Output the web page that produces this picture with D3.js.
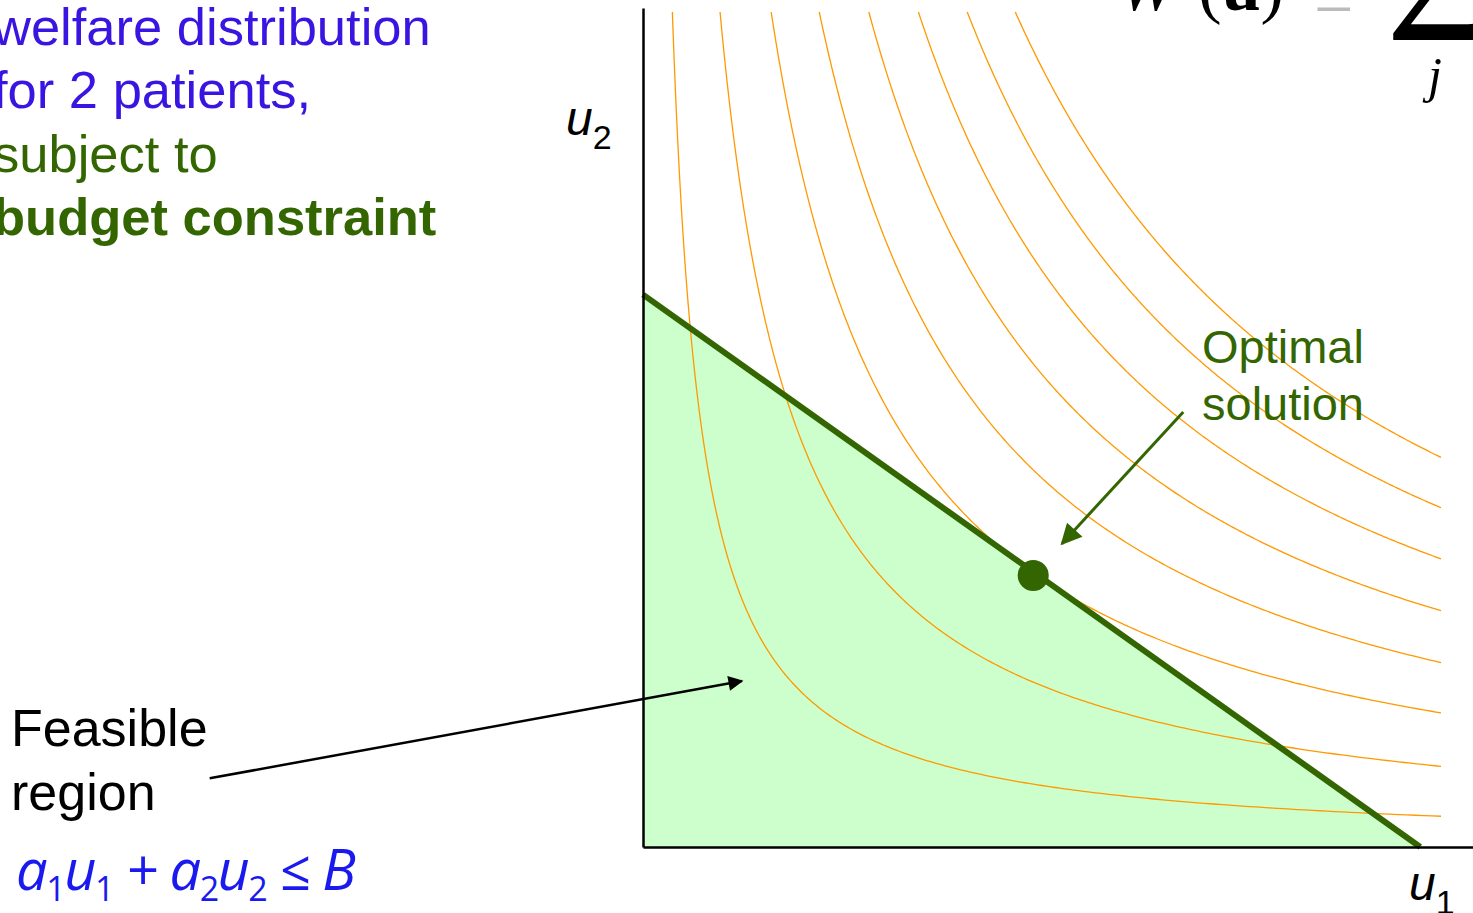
<!DOCTYPE html>
<html>
<head>
<meta charset="utf-8">
<script src="https://cdn.jsdelivr.net/npm/d3@7"></script>
<style>
body { margin: 0; background: #fff; overflow: hidden; }
svg { display: block; }
</style>
</head>
<body>
<div class="graph"></div>
<script>
// welfare levels: curves u1 * u2 = level
const welfareLevels = [3.85, 10.1, 16.8, 23.1, 29.6, 36.1, 42.5, 48.8]
// budget line intercepts [u1, u2]
const budget = [9.74, 6.92]
const optimum = [4.89, 3.40]
// annotation arrows [from, to] in axis units
const optimalArrow = [[6.77, 5.45], [5.25, 3.80]]
const feasibleArrow = [[-5.43, 0.86], [1.24, 2.08]]
const titleLines = [
    { text: 'welfare distribution', colour: '#3a14e0', bold: false },
    { text: 'for 2 patients,', colour: '#3a14e0', bold: false },
    { text: 'subject to', colour: '#336600', bold: false },
    { text: 'budget constraint', colour: '#336600', bold: true }
]
// budget formula pieces [text, subscript]
const formulaParts = [['a', '1'], ['u', '1'], [' + ', ''], ['a', '2'], ['u', '2'], [' \u2264 B', '']]

const w = 1473
const h = 913
const colours = {
    curve: '#ff9900',
    budget: '#336600',
    fill: '#ccffcc',
    blue: '#1a1aee'
}

const x = d3.scaleLinear().domain([0, 10]).range([643, 1441])
const y = d3.scaleLinear().domain([0, 10.46]).range([847, 12])

const svg = d3.select('.graph')
    .append('svg')
    .attr('width', w)
    .attr('height', h)
    .attr('viewBox', '0 0 ' + w + ' ' + h)

const defs = svg.append('defs')
defs.append('marker')
    .attr('id', 'head-green')
    .attr('viewBox', '0 0 10 10')
    .attr('refX', 9).attr('refY', 5)
    .attr('markerWidth', 8).attr('markerHeight', 7)
    .attr('markerUnits', 'strokeWidth')
    .attr('orient', 'auto')
    .append('path').attr('d', 'M0,0 L10,5 L0,10 z').attr('fill', colours.budget)
defs.append('marker')
    .attr('id', 'head-black')
    .attr('viewBox', '0 0 10 10')
    .attr('refX', 9).attr('refY', 5)
    .attr('markerWidth', 8).attr('markerHeight', 6)
    .attr('markerUnits', 'strokeWidth')
    .attr('orient', 'auto')
    .append('path').attr('d', 'M0,0 L10,5 L0,10 z').attr('fill', '#000')

// feasible region
const region = [[0, 0], [0, budget[1]], [budget[0], 0]]
svg.append('path')
    .attr('d', d3.line().x(d => x(d[0])).y(d => y(d[1]))(region) + 'Z')
    .attr('fill', colours.fill)

// indifference curves
const yMax = y.domain()[1]
const xMax = x.domain()[1]
const curvePoints = k => {
    const lo = Math.log(k / yMax), hi = Math.log(xMax)
    return d3.range(0, 301).map(i => {
        const u1 = Math.exp(lo + (hi - lo) * i / 300)
        return [u1, k / u1]
    })
}
svg.append('g')
    .selectAll('path.curve')
    .data(welfareLevels)
    .join('path')
    .attr('class', 'curve')
    .attr('d', k => d3.line().x(d => x(d[0])).y(d => y(d[1]))(curvePoints(k)))
    .attr('fill', 'none')
    .attr('stroke', colours.curve)
    .attr('stroke-width', 1.3)

// budget line
svg.append('line')
    .attr('x1', x(0)).attr('y1', y(budget[1]))
    .attr('x2', x(budget[0])).attr('y2', y(0))
    .attr('stroke', colours.budget)
    .attr('stroke-width', 6)

// axes
const xAxisScale = x.copy().domain([0, 10.4]).range([x(0), x(10.4)])
const yAxisScale = y.copy().domain([0, 10.51]).range([y(0), y(10.51)])
svg.append('g')
    .attr('class', 'axis')
    .attr('transform', 'translate(0,' + y(0) + ')')
    .call(d3.axisBottom(xAxisScale).tickValues([]).tickSizeOuter(0))
svg.append('g')
    .attr('class', 'axis')
    .attr('transform', 'translate(' + x(0) + ',0)')
    .call(d3.axisLeft(yAxisScale).tickValues([]).tickSizeOuter(0))
svg.selectAll('.axis path')
    .attr('stroke', '#000')
    .attr('stroke-width', 2.5)

// optimum
svg.append('circle')
    .attr('cx', x(optimum[0]))
    .attr('cy', y(optimum[1]))
    .attr('r', 15.5)
    .attr('fill', colours.budget)

// arrows
svg.append('line')
    .attr('x1', x(optimalArrow[0][0])).attr('y1', y(optimalArrow[0][1]))
    .attr('x2', x(optimalArrow[1][0])).attr('y2', y(optimalArrow[1][1]))
    .attr('stroke', colours.budget)
    .attr('stroke-width', 3)
    .attr('marker-end', 'url(#head-green)')
svg.append('line')
    .attr('x1', x(feasibleArrow[0][0])).attr('y1', y(feasibleArrow[0][1]))
    .attr('x2', x(feasibleArrow[1][0])).attr('y2', y(feasibleArrow[1][1]))
    .attr('stroke', '#000')
    .attr('stroke-width', 2.5)
    .attr('marker-end', 'url(#head-black)')

// texts
const sans = 'Liberation Sans, Arial, sans-serif'
svg.append('g')
    .selectAll('text.title')
    .data(titleLines)
    .join('text')
    .attr('class', 'title')
    .attr('x', -7)
    .attr('y', (d, i) => 45 + i * 63.3)
    .attr('font-family', sans)
    .attr('font-size', 52.5)
    .attr('font-weight', d => d.bold ? 'bold' : 'normal')
    .attr('fill', d => d.colour)
    .text(d => d.text)

const optText = svg.append('text')
    .attr('font-family', sans)
    .attr('font-size', 47)
    .attr('fill', colours.budget)
optText.append('tspan').attr('x', 1202).attr('y', 363).text('Optimal')
optText.append('tspan').attr('x', 1202).attr('y', 420).text('solution')

const feasText = svg.append('text')
    .attr('font-family', sans)
    .attr('font-size', 52)
    .attr('fill', '#000')
feasText.append('tspan').attr('x', 11).attr('y', 746).text('Feasible')
feasText.append('tspan').attr('x', 11).attr('y', 810).text('region')

// axis labels
const u2 = svg.append('text')
    .attr('x', 566).attr('y', 135)
    .attr('font-family', sans)
    .attr('font-size', 48)
    .attr('font-style', 'italic')
u2.append('tspan').text('u')
u2.append('tspan').attr('font-style', 'normal').attr('font-size', 34).attr('dy', 14).text('2')

const u1 = svg.append('text')
    .attr('x', 1409).attr('y', 900)
    .attr('font-family', sans)
    .attr('font-size', 48)
    .attr('font-style', 'italic')
u1.append('tspan').text('u')
u1.append('tspan').attr('font-style', 'normal').attr('font-size', 34).attr('dy', 14).text('1')

// budget constraint formula
const formula = svg.append('text')
    .attr('x', 16).attr('y', 890)
    .attr('font-family', 'Open Sans, Lato, sans-serif')
    .attr('font-size', 56)
    .attr('font-style', 'italic')
    .attr('fill', colours.blue)
    .attr('letter-spacing', -1.5)
let shifted = false
formulaParts.forEach(p => {
    formula.append('tspan')
        .attr('dy', shifted ? -11 : 0)
        .text(p[0])
    shifted = false
    if (p[1]) {
        formula.append('tspan')
            .attr('font-style', 'normal')
            .attr('font-size', 34)
            .attr('dy', 11)
            .text(p[1])
        shifted = true
    }
})

// welfare function, cut off at top
const serif = 'Liberation Serif, DejaVu Serif, serif'
const wf = svg.append('text')
    .attr('x', 1118).attr('y', 10)
    .attr('font-family', serif)
    .attr('font-size', 70)
wf.append('tspan').attr('font-style', 'italic').text('W')
wf.append('tspan').attr('dx', 22).text('(')
wf.append('tspan').attr('font-weight', 'bold').text('u')
wf.append('tspan').text(')')
wf.append('tspan').attr('dx', 30).attr('dy', 16).attr('fill', '#bbb').text('=')
svg.append('text')
    .attr('x', 1386).attr('y', 40)
    .attr('font-family', serif)
    .attr('font-size', 185)
    .text('\u03A3')
svg.append('text')
    .attr('x', 1428).attr('y', 92)
    .attr('font-family', serif)
    .attr('font-size', 50)
    .attr('font-style', 'italic')
    .text('j')
</script>
</body>
</html>
